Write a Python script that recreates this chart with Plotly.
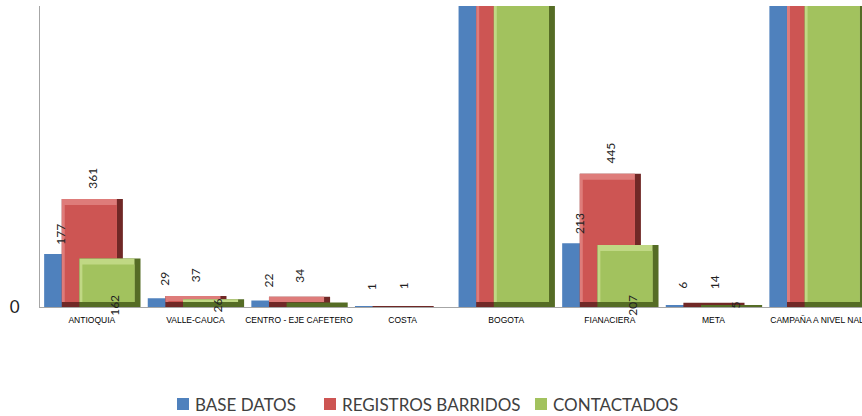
import plotly.graph_objects as go

categories = ["ANTIOQUIA", "VALLE-CAUCA", "CENTRO - EJE CAFETERO", "COSTA",
              "BOGOTA", "FIANACIERA", "META", "CAMPAÑA A NIVEL NAL"]
base_datos = [177, 29, 22, 1, 1850, 213, 6, 1600]
registros_barridos = [361, 37, 34, 1, 1900, 445, 14, 1650]
contactados = [162, 26, 15, 0, 1750, 207, 5, 1550]
green_label_hidden = ["CENTRO - EJE CAFETERO", "COSTA"]

series_names = ["BASE DATOS", "REGISTROS BARRIDOS", "CONTACTADOS"]
face_colors = ["#4F81BD", "#CD5553", "#A2C25E"]
light_colors = ["#4F81BD", "#DE7C7A", "#C0D884"]
dark_colors = ["#4F81BD", "#702826", "#556C25"]
bevel = [False, True, True]
offsets = [-0.46, -0.29, -0.12]
bar_w = 0.59

# pixel geometry of the plot area
L, R, T, B = 40, 862, 6, 307
W, H = 862, 416
ymax = 1005
xr = [-0.5, 7.434]
px_per_cat = (R - L) / (xr[1] - xr[0])
px_per_unit = (B - T) / ymax

rim_l = 3 / px_per_cat
rim_r = 6 / px_per_cat
rim_t = 6 / px_per_unit
rim_b = 5 / px_per_unit

fig = go.Figure()
for k, vals in enumerate([base_datos, registros_barridos, contactados]):
    off = offsets[k]
    if not bevel[k]:
        fig.add_trace(go.Bar(x=categories, y=vals, name=series_names[k], offset=off,
                             width=bar_w, marker=dict(color=face_colors[k], line_width=0),
                             showlegend=False, hoverinfo="skip"))
        continue
    # outer (dark rim: right & bottom)
    fig.add_trace(go.Bar(x=categories, y=vals, name=series_names[k], offset=off,
                         width=bar_w, marker=dict(color=dark_colors[k], line_width=0),
                         showlegend=False, hoverinfo="skip"))
    # highlight (light rim: left & top)
    hl = [max(v - rim_b, 0) for v in vals]
    fig.add_trace(go.Bar(x=categories, y=hl, base=[rim_b if v > rim_b else v for v in vals],
                         offset=off, width=bar_w - rim_r,
                         marker=dict(color=light_colors[k], line_width=0),
                         showlegend=False, hoverinfo="skip"))
    # face
    fh = [max(v - rim_b - rim_t, 0) for v in vals]
    fig.add_trace(go.Bar(x=categories, y=fh, base=[rim_b] * len(vals),
                         offset=off + rim_l, width=bar_w - rim_l - rim_r,
                         marker=dict(color=face_colors[k], line_width=0),
                         showlegend=False, hoverinfo="skip"))

anns = []
label_font = dict(family="Lato, Liberation Sans, sans-serif", size=12, color="#222222")
for i, c in enumerate(categories):
    if base_datos[i] < ymax:
        anns.append(dict(x=c, y=base_datos[i], text=str(base_datos[i]), textangle=-90,
                         xshift=-31, yshift=20, showarrow=False, font=label_font))
    if registros_barridos[i] < ymax:
        anns.append(dict(x=c, y=registros_barridos[i], text=str(registros_barridos[i]),
                         textangle=-90, xshift=1, yshift=21, showarrow=False, font=label_font))
    if contactados[i] < ymax and c not in green_label_hidden:
        anns.append(dict(x=c, y=0, text=str(contactados[i]), textangle=-90,
                         xshift=22, yshift=2, showarrow=False, font=label_font))

# custom legend (square + label) below the plot
def px2paper(px, py):
    return (px - L) / (R - L), (B - py) / (B - T)

shapes = []
legend_sq_x = [177, 324, 535]
legend_y = 404
sq = 12
for k in range(3):
    x0, y0 = px2paper(legend_sq_x[k], legend_y + sq / 2)
    x1, y1 = px2paper(legend_sq_x[k] + sq, legend_y - sq / 2)
    shapes.append(dict(type="rect", xref="paper", yref="paper", x0=x0, x1=x1, y0=y0, y1=y1,
                       fillcolor=face_colors[k], line=dict(width=0)))
    tx, ty = px2paper(legend_sq_x[k] + sq + 4, legend_y)
    anns.append(dict(xref="paper", yref="paper", x=tx, y=ty, xanchor="left", yanchor="middle",
                     text=series_names[k], showarrow=False,
                     font=dict(family="Lato, Liberation Sans, sans-serif", size=17,
                               color="#404040")))

fig.update_layout(
    width=W, height=H,
    margin=dict(l=L, r=W - R, t=T, b=H - B),
    paper_bgcolor="white", plot_bgcolor="white",
    barmode="overlay",
    annotations=anns, shapes=shapes,
    showlegend=False,
)
fig.update_xaxes(
    range=xr, showline=True, linecolor="#A6A6A6", linewidth=1, automargin=False,
    ticks="", showgrid=False, ticklabelstandoff=5,
    tickfont=dict(family="Liberation Sans, sans-serif", size=8.5, color="#000000"),
)
fig.update_yaxes(
    range=[0, ymax], showline=True, linecolor="#A6A6A6", linewidth=1, automargin=False,
    showgrid=False, zeroline=False, tickvals=[0], ticktext=["0"],
    ticklabelstandoff=16,
    tickfont=dict(family="Lato, Liberation Sans, sans-serif", size=17, color="#222222"),
)

fig.write_html("out.html", config={"displayModeBar": False},
               post_script="document.body.style.margin='0';document.body.style.overflow='hidden';")
